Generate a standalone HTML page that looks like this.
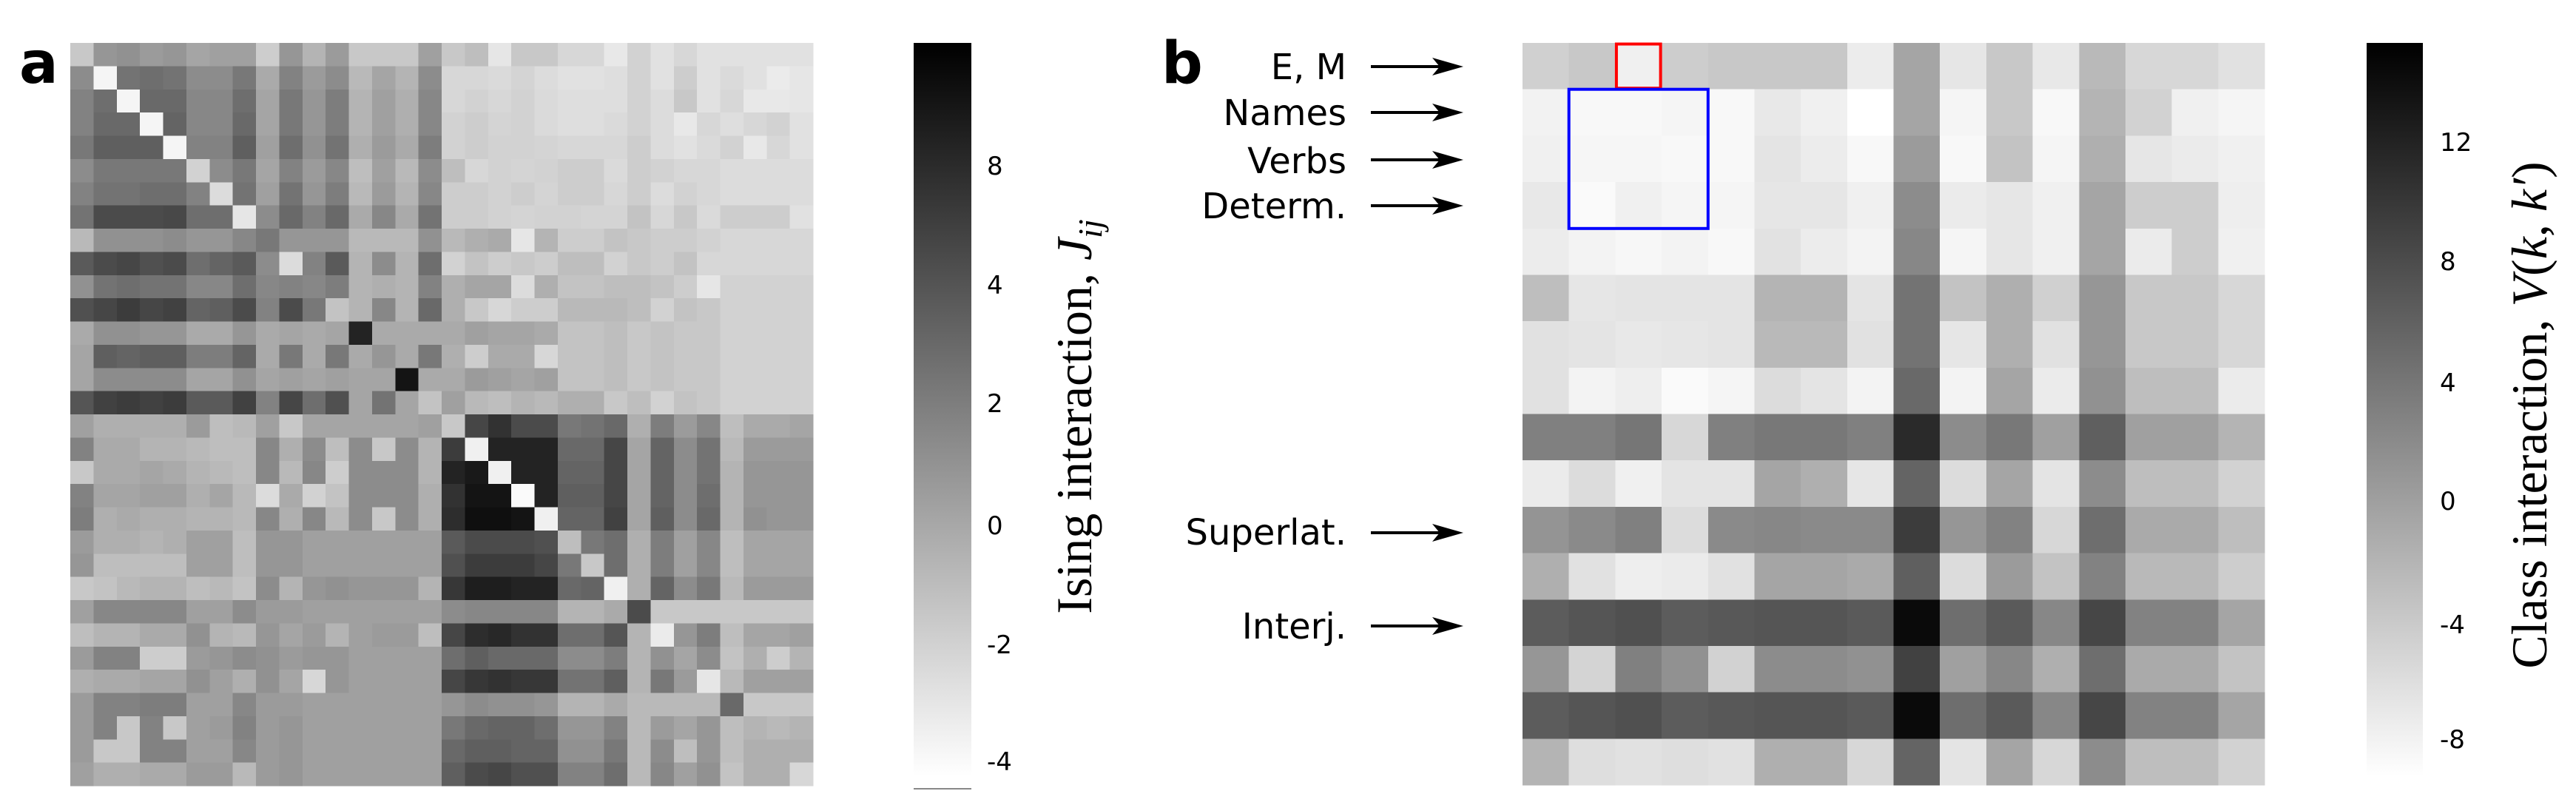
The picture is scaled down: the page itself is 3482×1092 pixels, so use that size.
<!DOCTYPE html>
<html><head><meta charset="utf-8">
<style>
html,body{margin:0;padding:0;background:#fff;}
svg{display:block;}
.tk{font-family:"DejaVu Sans","Liberation Sans",sans-serif;font-size:34px;fill:#000;}
.lb{font-family:"DejaVu Sans","Liberation Sans",sans-serif;font-size:48px;fill:#000;}
.ax{font-family:"Liberation Serif","DejaVu Serif",serif;font-size:68px;fill:#000;}
.pl{font-family:"DejaVu Sans","Liberation Sans",sans-serif;font-size:78px;font-weight:bold;fill:#000;}
</style></head>
<body>
<svg id="s" width="3482" height="1092" viewBox="0 0 3482 1092" xmlns="http://www.w3.org/2000/svg">
<defs>
<linearGradient id="cb" x1="0" y1="0" x2="0" y2="1">
<stop offset="0" stop-color="#000"/><stop offset="1" stop-color="#fff"/>
</linearGradient>
</defs>
<g id="ga" shape-rendering="crispEdges"></g>
<g id="gb" shape-rendering="crispEdges"></g>
<text class="pl" x="26" y="112">a</text>
<text class="pl" x="1570" y="112">b</text>
<!-- colorbar a -->
<rect x="1235" y="58" width="78" height="991" fill="url(#cb)"/>
<rect x="1235" y="1065" width="78" height="2" fill="#888"/>
<text class="tk" x="1334" y="236">8</text>
<text class="tk" x="1334" y="397">4</text>
<text class="tk" x="1334" y="557">2</text>
<text class="tk" x="1334" y="722">0</text>
<text class="tk" x="1334" y="883">-2</text>
<text class="tk" x="1334" y="1041">-4</text>
<text class="ax" transform="translate(1475,563) rotate(-90)" text-anchor="middle">Ising interaction, <tspan font-style="italic">J</tspan><tspan font-style="italic" font-size="46" dy="14">ij</tspan></text>
<!-- labels b -->
<g text-anchor="end">
<text class="lb" x="1820" y="107">E, M</text>
<text class="lb" x="1820" y="169">Names</text>
<text class="lb" x="1820" y="234">Verbs</text>
<text class="lb" x="1820" y="295">Determ.</text>
<text class="lb" x="1820" y="736">Superlat.</text>
<text class="lb" x="1820" y="863">Interj.</text>
</g>
<g id="arr"></g>
<!-- colorbar b -->
<rect x="3199" y="58" width="76" height="991" fill="url(#cb)"/>
<text class="tk" x="3298" y="204">12</text>
<text class="tk" x="3298" y="365">8</text>
<text class="tk" x="3298" y="529">4</text>
<text class="tk" x="3298" y="689">0</text>
<text class="tk" x="3298" y="856">-4</text>
<text class="tk" x="3298" y="1011">-8</text>
<text class="ax" transform="translate(3442,561) rotate(-90)" text-anchor="middle">Class interaction, <tspan font-style="italic">V</tspan>(<tspan font-style="italic">k</tspan>, <tspan font-style="italic">k′</tspan>)</text>
<g id="boxes"></g>
</svg>
<script>
var A=[
[200,150,145,155,150,165,160,160,205,150,180,155,200,200,200,160,200,190,230,200,200,215,215,232,210,225,215,225,225,225,225,225],
[140,245,115,110,115,140,140,120,170,130,155,140,185,165,180,140,215,215,218,212,220,225,225,222,210,225,205,225,218,225,235,230],
[130,110,245,105,105,135,135,110,165,120,150,125,180,160,175,135,215,210,215,210,218,222,222,222,210,220,200,225,215,232,232,230],
[130,105,105,245,100,135,135,105,165,120,150,125,180,160,175,135,210,205,212,210,218,222,222,218,210,220,232,215,222,215,210,225],
[120,95,95,95,245,130,130,95,160,110,145,115,175,155,170,125,210,205,210,210,212,215,215,215,205,220,225,218,210,232,215,225],
[140,120,120,120,120,210,140,120,165,130,155,135,190,160,185,140,190,215,210,212,210,205,205,218,205,210,215,215,220,220,220,220],
[130,115,115,110,110,130,220,115,160,115,150,125,185,155,180,135,205,205,210,205,212,205,205,215,205,220,210,215,220,220,220,220],
[115,75,75,75,72,110,110,230,140,105,130,105,170,135,170,115,205,205,210,212,210,210,212,212,195,215,200,218,205,205,205,225],
[185,145,145,145,140,150,150,135,120,150,150,150,185,185,185,145,185,175,170,230,180,205,205,195,200,205,205,210,215,215,215,215],
[90,75,70,80,75,110,100,90,140,220,130,90,180,140,180,110,210,195,205,200,205,190,190,210,200,205,195,215,215,215,215,215],
[145,115,110,115,115,135,135,110,135,130,135,125,180,175,180,130,175,165,165,220,175,195,195,190,190,195,205,230,210,210,210,210],
[80,70,60,70,65,100,95,75,130,75,120,195,180,135,180,105,175,200,215,205,205,185,185,185,190,210,195,200,210,210,210,210],
[170,145,145,150,150,170,170,150,170,165,170,165,35,170,170,170,170,160,165,165,170,195,195,190,200,195,200,200,210,210,210,210],
[165,95,100,95,95,125,125,100,170,120,170,120,170,150,170,120,175,205,170,170,215,195,195,190,200,195,200,200,210,210,210,210],
[165,140,140,140,140,165,165,145,165,160,165,160,165,165,20,170,170,155,160,165,160,195,195,190,200,195,200,200,210,210,210,210],
[85,65,60,65,60,90,90,65,130,70,110,80,165,115,165,195,160,185,190,180,185,175,175,200,190,210,195,200,210,210,210,210],
[160,175,175,175,175,155,190,185,160,200,165,165,165,165,165,160,200,70,50,75,75,120,115,105,175,125,155,135,190,170,170,165],
[130,170,170,180,180,185,190,190,135,175,140,190,140,200,140,180,60,240,35,35,35,105,105,70,165,100,140,115,185,155,155,155],
[200,170,170,165,170,180,185,190,135,185,135,205,140,140,140,180,35,25,240,35,35,100,100,70,165,100,140,115,180,150,150,150],
[130,165,165,160,160,175,165,185,220,170,210,195,140,140,140,175,50,20,20,250,35,95,95,70,165,100,140,110,180,150,150,150],
[125,175,170,175,175,180,180,185,135,175,135,185,140,200,140,175,45,15,15,20,240,100,100,65,165,95,140,105,180,145,150,150],
[155,175,175,180,175,160,160,190,150,150,160,160,160,160,160,160,90,75,75,75,80,190,120,110,175,125,160,135,190,165,165,165],
[150,190,190,190,190,160,160,190,150,150,160,160,160,160,160,160,80,60,60,60,70,120,200,110,175,125,160,135,190,165,165,165],
[200,195,185,180,180,190,185,195,140,180,150,145,150,150,150,180,55,30,30,35,35,105,100,240,175,100,140,120,185,155,155,155],
[160,135,135,135,135,160,160,140,155,155,160,160,160,160,160,160,140,135,135,135,135,180,180,170,75,200,200,200,200,200,200,200],
[190,180,180,170,170,145,180,185,150,165,155,180,160,155,155,190,70,45,40,50,50,110,110,85,180,235,150,125,190,165,165,160],
[155,130,130,205,205,155,150,140,145,155,150,150,160,160,160,160,110,95,105,105,105,140,140,125,180,145,165,140,195,175,205,180],
[175,170,170,165,165,145,160,175,145,165,215,150,160,160,160,160,70,55,50,55,55,115,115,95,180,120,155,230,185,160,160,160],
[155,130,130,125,125,160,160,135,155,155,160,160,160,160,160,160,150,140,145,145,150,180,180,170,185,185,185,185,105,200,200,200],
[155,130,200,130,200,160,155,130,155,150,160,160,160,160,160,160,120,105,100,100,110,150,150,130,185,155,165,150,190,180,185,180],
[155,200,200,130,130,160,160,135,155,150,160,160,160,160,160,160,105,95,95,100,100,145,145,120,185,140,190,150,190,175,175,175],
[160,175,175,170,170,155,155,185,155,150,160,160,160,160,160,160,95,75,70,80,80,130,130,110,185,135,160,145,195,175,175,215]];
var B=[
[208,200,240,205,200,200,200,236,165,230,200,232,185,215,215,225],
[242,248,248,245,248,232,240,255,165,245,200,248,180,210,240,245],
[240,246,246,248,248,228,236,248,155,248,195,245,175,230,235,240],
[232,250,240,245,245,230,230,240,140,235,230,240,165,205,205,238],
[236,243,247,243,248,226,236,243,135,245,230,240,165,235,205,240],
[190,230,228,228,228,180,180,228,115,195,175,208,150,200,200,215],
[225,228,232,230,228,185,185,225,115,230,175,225,150,200,200,215],
[225,243,238,250,245,220,228,243,105,243,165,235,145,190,190,235],
[128,128,118,215,128,120,120,128,42,140,120,160,95,160,160,180],
[235,220,240,228,228,165,175,230,100,220,165,228,140,190,190,210],
[148,138,128,220,138,135,138,138,60,150,130,215,110,170,170,190],
[175,225,238,235,225,165,165,170,95,220,155,195,130,185,185,205],
[92,85,80,92,88,85,85,90,10,110,90,135,70,130,130,165],
[150,212,128,145,210,140,140,145,65,160,135,175,110,170,170,195],
[92,85,80,92,88,85,85,90,10,110,90,135,70,130,130,165],
[180,222,225,222,225,175,175,215,100,228,165,215,140,190,190,210]];
var NS="http://www.w3.org/2000/svg";
function R(g,x,y,w,h,f,extra){var r=document.createElementNS(NS,"rect");r.setAttribute("x",x);r.setAttribute("y",y);r.setAttribute("width",w);r.setAttribute("height",h);r.setAttribute("fill",f);if(extra)for(var k in extra)r.setAttribute(k,extra[k]);g.appendChild(r);return r;}
function gr(v){return "rgb("+v+","+v+","+v+")";}
var ga=document.getElementById("ga"),gb=document.getElementById("gb");
var ax0=95,ay0=58,as=1004/32;
for(var i=0;i<32;i++)for(var j=0;j<32;j++){var x=ax0+j*as,y=ay0+i*as;R(ga,x.toFixed(2),y.toFixed(2),(as+0.6).toFixed(2),(as+0.6).toFixed(2),gr(A[i][j]));}
var bx0=2058,by0=58,bs=1003/16;
for(var i=0;i<16;i++)for(var j=0;j<16;j++){var x=bx0+j*bs,y=by0+i*bs;R(gb,x.toFixed(2),y.toFixed(2),(bs+0.6).toFixed(2),(bs+0.6).toFixed(2),gr(B[i][j]));}
var bx=document.getElementById("boxes");
R(bx,(bx0+2*bs+1.5).toFixed(1),(by0+1.5).toFixed(1),(bs-3).toFixed(1),(bs-3).toFixed(1),"none",{stroke:"#ff0000","stroke-width":4});
R(bx,(bx0+bs).toFixed(1),(by0+bs).toFixed(1),(3*bs).toFixed(1),(3*bs).toFixed(1),"none",{stroke:"#0000ff","stroke-width":4});
var arr=document.getElementById("arr");
[90,152,216,278,720,846].forEach(function(y){
 var l=document.createElementNS(NS,"line");l.setAttribute("x1",1853);l.setAttribute("x2",1950);l.setAttribute("y1",y);l.setAttribute("y2",y);l.setAttribute("stroke","#000");l.setAttribute("stroke-width",4);arr.appendChild(l);
 var p=document.createElementNS(NS,"polygon");p.setAttribute("points","1978,"+y+" 1936,"+(y-12)+" 1946,"+y+" 1936,"+(y+12));p.setAttribute("fill","#000");arr.appendChild(p);
});
</script>
</body></html>
